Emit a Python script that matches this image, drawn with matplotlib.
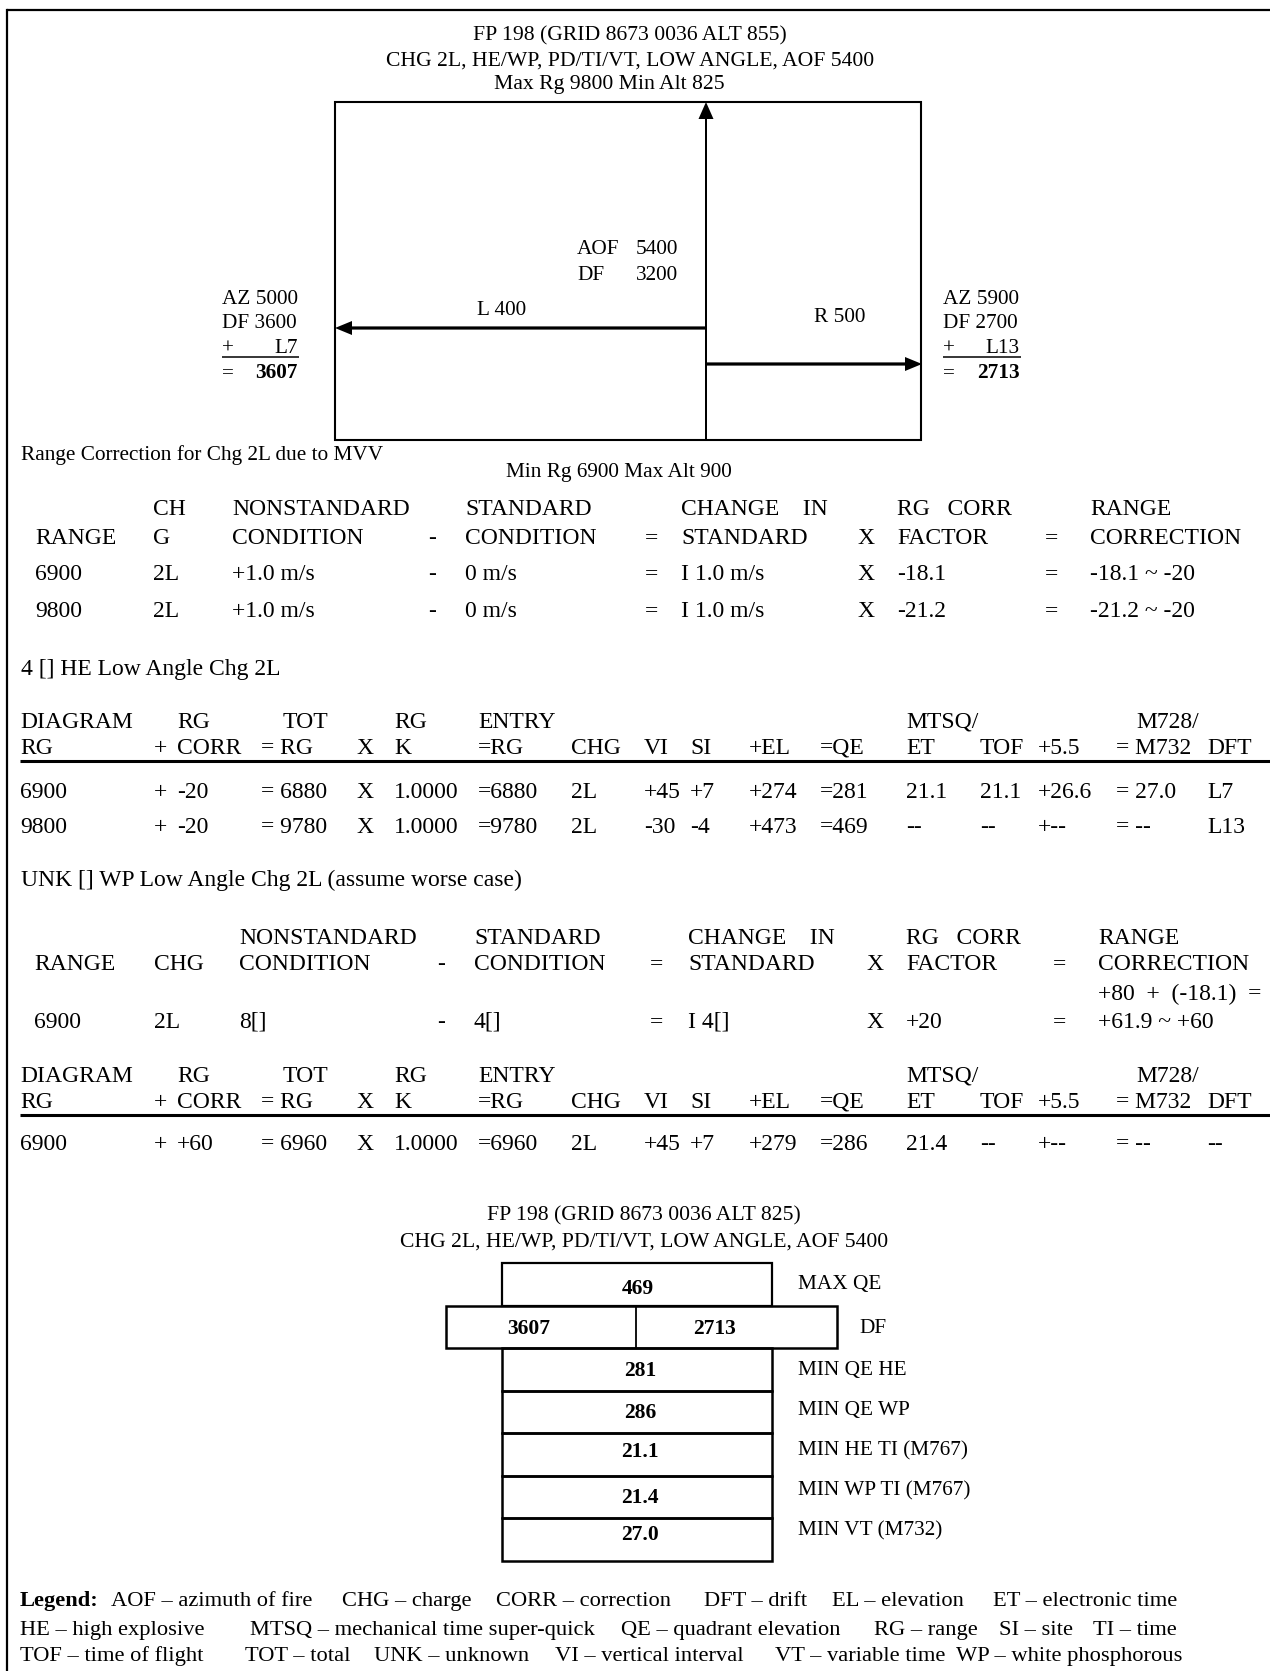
import matplotlib.pyplot as plt
from matplotlib.patches import Rectangle

plt.rcParams['font.family'] = ['Liberation Serif', 'DejaVu Serif']

# ---------------- data ----------------
fp_title = ["FP 198 (GRID 8673 0036 ALT 855)",
            "CHG 2L, HE/WP, PD/TI/VT, LOW ANGLE, AOF 5400",
            "Max Rg 9800 Min Alt 825"]
min_note = "Min Rg 6900 Max Alt 900"
aof_lines = [("AOF", "5400"), ("DF", "3200")]
shift_left = "L 400"
shift_right = "R 500"
left_calc = ["AZ 5000", "DF 3600", "L7", "3607"]
right_calc = ["AZ 5900", "DF 2700", "L13", "2713"]

mvv_title = "Range Correction for Chg 2L due to MVV"
he_title = "4 [] HE Low Angle Chg 2L"
wp_title = "UNK [] WP Low Angle Chg 2L (assume worse case)"

mvv_head1 = ["", "CH", "NONSTANDARD", "", "STANDARD", "", "CHANGE    IN", "", "RG   CORR", "", "RANGE"]
mvv_head2 = ["RANGE", "G", "CONDITION", "-", "CONDITION", "=", "STANDARD", "X", "FACTOR", "=", "CORRECTION"]
mvv_rows = [["6900", "2L", "+1.0 m/s", "-", "0 m/s", "=", "I 1.0 m/s", "X", "-18.1", "=", "-18.1 ~ -20"],
            ["9800", "2L", "+1.0 m/s", "-", "0 m/s", "=", "I 1.0 m/s", "X", "-21.2", "=", "-21.2 ~ -20"]]

wp_head1 = ["", "", "NONSTANDARD", "", "STANDARD", "", "CHANGE    IN", "", "RG   CORR", "", "RANGE"]
wp_head2 = ["RANGE", "CHG", "CONDITION", "-", "CONDITION", "=", "STANDARD", "X", "FACTOR", "=", "CORRECTION"]
wp_sum = "+80  +  (-18.1)  ="
wp_corr_row = ["6900", "2L", "8[]", "-", "4[]", "=", "I 4[]", "X", "+20", "=", "+61.9 ~ +60"]

sol_head1 = ["DIAGRAM", "RG", "TOT", "RG", "ENTRY", "MTSQ/", "M728/"]
sol_head2 = ["RG", "+", "CORR", "= RG", "X", "K", "=RG", "CHG", "VI", "SI", "+EL", "=QE",
             "ET", "TOF", "+5.5", "= M732", "DFT"]
he_rows = [["6900", "+", "-20", "= 6880", "X", "1.0000", "=6880", "2L", "+45", "+7", "+274", "=281",
            "21.1", "21.1", "+26.6", "= 27.0", "L7"],
           ["9800", "+", "-20", "= 9780", "X", "1.0000", "=9780", "2L", "-30", "-4", "+473", "=469",
            "--", "--", "+--", "= --", "L13"]]
wp_rows = [["6900", "+", "+60", "= 6960", "X", "1.0000", "=6960", "2L", "+45", "+7", "+279", "=286",
            "21.4", "--", "+--", "= --", "--"]]

card_title = ["FP 198 (GRID 8673 0036 ALT 825)",
              "CHG 2L, HE/WP, PD/TI/VT, LOW ANGLE, AOF 5400"]
card_max_qe = "469"
card_df = ["3607", "2713"]
card_low = ["281", "286", "21.1", "21.4", "27.0"]
card_labels = ["MAX QE", "DF", "MIN QE HE", "MIN QE WP", "MIN HE TI (M767)",
               "MIN WP TI (M767)", "MIN VT (M732)"]

legend = [[("AOF", "azimuth of fire"), ("CHG", "charge"), ("CORR", "correction"),
           ("DFT", "drift"), ("EL", "elevation"), ("ET", "electronic time")],
          [("HE", "high explosive"), ("MTSQ", "mechanical time super-quick"),
           ("QE", "quadrant elevation"), ("RG", "range"), ("SI", "site"), ("TI", "time")],
          [("TOF", "time of flight"), ("TOT", "total"), ("UNK", "unknown"),
           ("VI", "vertical interval"), ("VT", "variable time"), ("WP", "white phosphorous")]]

# ---------------- layout (pixel coordinates) ----------------
W, H = 1270, 1671
fig = plt.figure(figsize=(W / 100, H / 100), dpi=100)
ax = fig.add_axes([0, 0, 1, 1])
ax.set_xlim(0, W)
ax.set_ylim(H, 0)
ax.axis('off')

FS = 15.3    # diagram text
TFS = 17     # table text
LFS = 16.2   # legend text


def txt(x, y, s, size=FS, bold=False, ha='left'):
    # y is the visual middle of capital letters
    ax.text(x, y + 0.465 * size, s, fontsize=size, ha=ha, va='baseline',
            fontweight='bold' if bold else 'normal')


def hline(x0, x1, y, lw=1.5):
    ax.plot([x0, x1], [y, y], color='black', lw=lw, solid_capstyle='butt')


# outer frame (only top and left edges are visible)
hline(7, W, 10, lw=1.6)
ax.plot([7, 7], [10, H], color='black', lw=1.6)

# ---- top diagram ----
for s, xc, y in zip(fp_title, [630, 630, 609], [33, 58, 82]):
    txt(xc, y, s, size=15.6, ha='center')

ax.add_patch(Rectangle((334.5, 101.7), 586.5, 338.3, fill=False, lw=1.5, ec='black'))
ax.arrow(706, 440, 0, -338, width=2, head_width=15, head_length=17,
         length_includes_head=True, color='black', lw=0)
ax.arrow(706, 328, -371, 0, width=3.2, head_width=14, head_length=17,
         length_includes_head=True, color='black', lw=0)
ax.arrow(706, 364, 216, 0, width=3.2, head_width=14, head_length=17,
         length_includes_head=True, color='black', lw=0)

for (k, v), y in zip(aof_lines, [247, 273]):
    txt(577, y, k)
    txt(636, y, v)
txt(477, 308, shift_left)
txt(814, 315, shift_right)

for calc, x0, x1 in [(left_calc, 222, 298), (right_calc, 943, 1020)]:
    txt(x0, 297, calc[0])
    txt(x0, 321, calc[1])
    txt(x0, 346, "+")
    txt(x1, 346, calc[2], ha='right')
    hline(x0, x1 + 1, 356.5, lw=1.1)
    txt(x0, 371, "=")
    txt(x1, 371, calc[3], bold=True, ha='right')

txt(21, 453, mvv_title)
txt(506, 470, min_note)

# ---- MVV range correction table ----
mvv_x = [35, 153, 232, 428, 465, 645, 681, 857, 897, 1045, 1090]
mvv_y = [507, 536, 572, 609]
for row, y in zip([mvv_head1, mvv_head2] + mvv_rows, mvv_y):
    for s, x in zip(row, mvv_x):
        if s:
            txt(x, y, s, size=TFS)

# ---- HE solution ----
sol_x = [20, 154, 177, 261, 356, 394, 478, 571, 644, 690, 749, 820, 906, 980, 1038, 1116, 1207]
head1_x = [20, 177, 283, 394, 478, 906, 1136]


def solution(y_head, y_line, y_rows, rows):
    for s, x in zip(sol_head1, head1_x):
        txt(x, y_head, s, size=TFS)
    for s, x in zip(sol_head2, sol_x):
        txt(x, y_head + 26, s, size=TFS)
    hline(20, W, y_line, lw=2.2)
    for row, y in zip(rows, y_rows):
        for s, x in zip(row, sol_x):
            txt(x, y, s, size=TFS)


txt(21, 667, he_title, size=TFS)
solution(720, 761, [790, 825], he_rows)

# ---- WP range correction ----
txt(21, 878, wp_title, size=TFS)
wp_x = [34, 154, 239, 437, 474, 650, 688, 866, 906, 1053, 1098]
for row, y in zip([wp_head1, wp_head2], [936, 962]):
    for s, x in zip(row, wp_x):
        if s:
            txt(x, y, s, size=TFS)
txt(wp_x[-1], 992, wp_sum, size=TFS)
for s, x in zip(wp_corr_row, wp_x):
    txt(x, 1020, s, size=TFS)

solution(1074, 1115, [1142], wp_rows)

# ---- firing card ----
for s, y in zip(card_title, [1213, 1239]):
    txt(644, y, s, size=15.6, ha='center')

bx0, bx1 = 502, 772
row_h = 42.5
top = 1263
ax.add_patch(Rectangle((bx0, top), bx1 - bx0, row_h, fill=False, lw=1.6, ec='black'))
ax.add_patch(Rectangle((445.5, top + row_h), 837 - 445.5, row_h, fill=False, lw=1.8, ec='black'))
ax.plot([636, 636], [top + row_h, top + 2 * row_h], color='black', lw=1.3)
for i in range(len(card_low)):
    ax.add_patch(Rectangle((bx0, top + (i + 2) * row_h), bx1 - bx0, row_h,
                           fill=False, lw=1.8, ec='black'))

txt(638, top + row_h / 2 + 3, card_max_qe, size=15.5, bold=True, ha='center')
txt(529, top + 1.5 * row_h, card_df[0], size=15.5, bold=True, ha='center')
txt(714, top + 1.5 * row_h, card_df[1], size=15.5, bold=True, ha='center')
low_dy = [0, -1, -4, -1, -6]
for i, (s, dy) in enumerate(zip(card_low, low_dy)):
    txt(640, top + (i + 2.5) * row_h + dy, s, size=15.5, bold=True, ha='center')

label_x = [798, 859, 798, 798, 798, 798, 798]
label_y = [1282, 1326, 1368, 1408, 1448, 1488, 1528]
for s, x, y in zip(card_labels, label_x, label_y):
    txt(x, y, s)

# ---- legend ----
legend_x = [[111, 342, 496, 704, 832, 993],
            [20, 250, 621, 874, 999, 1093],
            [20, 245, 374, 555, 775, 956]]
legend_y = [1598, 1627, 1653]
txt(20, legend_y[0], "Legend:", size=LFS, bold=True)
for items, xs, y in zip(legend, legend_x, legend_y):
    for (abbr, meaning), x in zip(items, xs):
        txt(x, y, f"{abbr} \u2013 {meaning}", size=LFS)

fig.savefig('out.png', dpi=100)
